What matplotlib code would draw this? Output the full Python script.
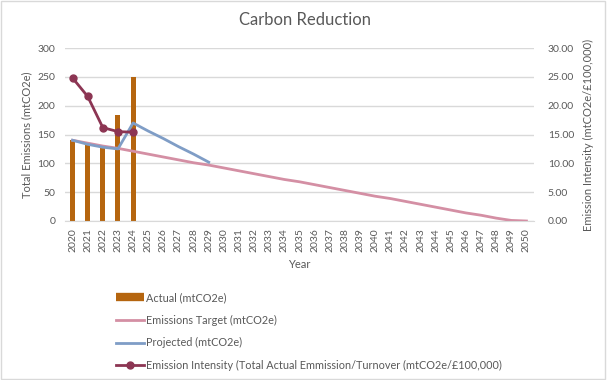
import matplotlib
matplotlib.use("Agg")
import matplotlib.pyplot as plt
import numpy as np
from matplotlib.patches import Rectangle
from matplotlib.lines import Line2D

plt.rcParams['font.family'] = ['Lato', 'DejaVu Sans']

# data
years = [str(y) for y in range(2020, 2051)]
actual = [140, 133, 127, 184, 249]
target = [140, 135, 130, 126, 121, 116, 111, 106, 101, 97,
          92, 87, 82, 77, 72, 68, 63, 58, 53, 48,
          43, 39, 34, 29, 24, 19, 14, 10, 5, 1, 0]
projected = [140, 133, 128, 125, 170, 156, 143, 129, 116, 102]
intensity = [24.8, 21.6, 16.2, 15.5, 15.4]

c_bar = '#B5650F'
c_target = '#D48FA4'
c_proj = '#7F9DC6'
c_int = '#8C3553'
c_text = '#595959'
c_grid = '#D9D9D9'


def main():
    fig = plt.figure(figsize=(6.1, 3.8), dpi=100)
    ax = fig.add_axes([65/610, 1 - 221/380, (534-65)/610, (221-48)/380])
    ax2 = ax.twinx()

    x = np.arange(len(years))
    ax.bar(x[:len(actual)], actual, width=0.33, color=c_bar, zorder=2)
    ax.plot(x, target, color=c_target, lw=2, zorder=3)
    ax.plot(x[:len(projected)], projected, color=c_proj, lw=2, zorder=4)
    ax2.plot(x[:len(intensity)], intensity, color=c_int, lw=2,
             marker='o', ms=5, zorder=5)

    ax.set_xlim(-0.5, len(years) - 0.5)
    ax.set_ylim(0, 300)
    ax.set_yticks(range(0, 301, 50))
    ax2.set_ylim(0, 30)
    ax2.set_yticks(range(0, 31, 5))
    ax2.set_yticklabels(['%.2f' % v for v in range(0, 31, 5)])
    ax.set_xticks(x)
    ax.set_xticklabels(years, rotation=90)

    ax.grid(axis='y', color=c_grid, lw=1, zorder=0)
    ax.set_axisbelow(True)
    for a in (ax, ax2):
        for s in a.spines.values():
            s.set_visible(False)
        a.tick_params(length=0, colors=c_text, labelsize=7.5)
    ax.spines['bottom'].set_visible(True)
    ax.spines['bottom'].set_color(c_grid)
    ax.tick_params(axis='y', pad=7)
    ax2.tick_params(axis='y', pad=10)
    ax.tick_params(axis='x', pad=5)

    ax.set_xlabel('Year', color=c_text, fontsize=8, labelpad=5)
    ax.set_ylabel('Total Emissions (mtCO2e)', color=c_text, fontsize=8, labelpad=4)
    ax2.set_ylabel('Emission Intensity (mtCO2e/\u00a3100,000)', color=c_text,
                   fontsize=8, labelpad=6)

    fig.text(0.5, 1 - 20/380, 'Carbon Reduction', ha='center', va='center',
             fontsize=12, color=c_text)

    handles = [Line2D([], [], color=c_bar, lw=6, solid_capstyle='butt'),
               Line2D([], [], color=c_target, lw=2),
               Line2D([], [], color=c_proj, lw=2),
               Line2D([], [], color=c_int, lw=2, marker='o', ms=5)]
    labels = ['Actual (mtCO2e)', 'Emissions Target (mtCO2e)', 'Projected (mtCO2e)',
              'Emission Intensity (Total Actual Emmission/Turnover (mtCO2e/\u00a3100,000)']
    leg = fig.legend(handles, labels, loc='upper left',
                     bbox_to_anchor=(116/610, 1 - 292/380), frameon=False,
                     fontsize=7.8, handlelength=2.6, handletextpad=0.15,
                     labelspacing=1.08, borderaxespad=0, borderpad=0)
    for t in leg.get_texts():
        t.set_color(c_text)

    fig.patches.append(Rectangle((0.002, 0.003), 0.99, 0.994, transform=fig.transFigure,
                                 fill=False, edgecolor=c_grid, lw=1))
    fig.savefig('out.png', dpi=100)


if __name__ == '__main__':
    main()
